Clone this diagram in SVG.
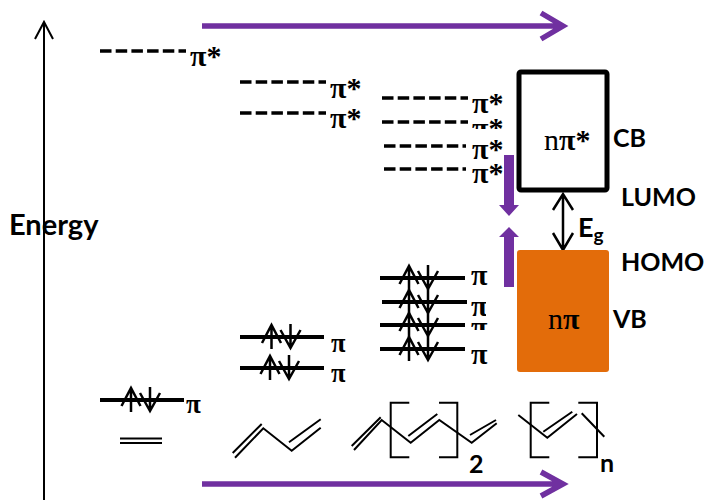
<svg xmlns="http://www.w3.org/2000/svg" width="704" height="500" viewBox="0 0 704 500">
<defs>
<style>
.lv{stroke:#000;stroke-width:4;fill:none}
.da{stroke:#000;stroke-width:3.500;fill:none;stroke-dasharray:11.500 4.200}
.ar{stroke:#000;stroke-width:2.500;fill:none}
.mol{stroke:#000;stroke-width:2;fill:none}
.pu{stroke:#7030a0;stroke-width:5.500;fill:none}
.ax{stroke:#000;stroke-width:2;fill:none}
.pi{font-family:"Liberation Serif",serif;font-weight:bold;font-size:30px;fill:#000}
.ps{font-family:"Liberation Serif",serif;font-weight:bold;font-size:27px;fill:#000}
.lb{font-family:Lato,"Liberation Sans",sans-serif;font-weight:bold;font-size:25px;fill:#000}
.n{font-family:"Liberation Serif",serif;font-size:30px;fill:#000}
.w{fill:#fff}
</style>
<g id="spin"><path class="ar" d="M0 12V-12M-9.500 6L0 -12L9.500 6"/><path class="ar" d="M19 -13V11M9 -7L19 11L29 -7"/></g>
</defs>
<g id="connectors">
<path class="ax" d="M44 500V22M35 39L44 22L53 39"/>
<path class="pu" d="M202 26H562M541 13L563 26L541 39"/>
<path class="pu" d="M202 484H562M541 472L563 484L541 496"/>
<path fill="#7030a0" d="M504 155H514V205H519L509 216L499 205H504Z"/>
<path fill="#7030a0" d="M504 287H514V237H519L509 227L499 237H504Z"/>
<path class="ar" d="M563 194V250M553 210L563 194L573 210M553 233L563 250L573 233"/>
</g>
<g id="level-ethylene">
<path class="da" d="M100 51H186"/>
<text class="pi" x="190" y="66">π*</text>
<path class="lv" d="M100 400H184"/>
<use href="#spin" x="131" y="400"/>
<text class="ps" x="186" y="413">π</text>
<path class="mol" d="M120 438.500H162M120 443H162"/>
</g>
<g id="level-butadiene">
<path class="da" d="M240 82H326"/>
<path class="da" d="M240 113H326"/>
<text class="pi" x="330" y="98">π*</text>
<text class="pi" x="330" y="128">π*</text>
<path class="lv" d="M240 337H324"/>
<path class="lv" d="M240 368H324"/>
<use href="#spin" x="271.500" y="337"/>
<use href="#spin" x="270" y="368"/>
<text class="ps" x="331" y="352">π</text>
<text class="ps" x="331" y="382">π</text>
<rect class="w" x="345.500" y="335" width="6" height="50"/>
<path class="mol" d="M232.700 453L261.700 424M235 457.700L263.300 428.300L291.700 450.700L320.700 427.700M289 442.300L320.700 419.300"/>
</g>
<g id="level-octatetraene">
<path class="da" d="M382 98H468"/>
<path class="da" d="M382 122H468"/>
<path class="da" d="M384 146H466"/>
<path class="da" d="M384 169H466"/>
<text class="pi" x="472" y="113">π*</text>
<text class="pi" x="472" y="138">π*</text>
<rect class="w" x="470" y="129" width="34" height="9"/>
<text class="pi" x="472" y="159">π*</text>
<text class="pi" x="472" y="183">π*</text>
<path class="lv" d="M380 278H465"/>
<path class="lv" d="M382 302H467"/>
<path class="lv" d="M380 325H465"/>
<path class="lv" d="M380 349H465"/>
<use href="#spin" x="409" y="278"/>
<use href="#spin" x="409" y="302"/>
<use href="#spin" x="409" y="325"/>
<use href="#spin" x="409" y="349"/>
<text class="pi" x="471" y="285">π</text>
<text class="pi" x="471" y="316">π</text>
<text class="pi" x="471" y="337">π</text>
<text class="pi" x="471" y="364">π</text>
<rect class="w" x="486" y="300" width="6" height="20"/>
<rect class="w" x="469" y="330" width="22" height="10"/>
<path class="mol" d="M351.700 446L380.700 417.300M354 450L381.700 420L410.700 442.700L439.300 420L471.700 442.700L496.700 423.300M408.300 436L437.300 414M470 435L496 420"/>
<path class="mol" d="M409.300 402.700H390.700V457.300H409.300M439 402.700H457.300V457.300H439"/>
<text class="lb" x="469" y="473">2</text>
</g>
<g id="level-polymer">
<path class="mol" d="M518.300 415L547.300 437.700L577 414M543.300 431.700L572.300 411.700M581.700 413.300L604.300 436.700"/>
<path class="mol" d="M549.300 402.700H530.700V457.300H549.300M578.300 402.700H597V457.300H578.300"/>
<text class="lb" x="600" y="472">n</text>
</g>
<g id="band-cb">
<rect x="519" y="72" width="88" height="118" rx="2" fill="#fff" stroke="#000" stroke-width="5"/>
<text class="n" x="544" y="150">n<tspan font-weight="bold">π*</tspan></text>
<text class="lb" x="613" y="147">CB</text>
</g>
<g id="band-vb">
<rect x="517" y="250" width="92" height="122" rx="3" fill="#e36c0a"/>
<text class="n" x="548" y="329">n<tspan font-weight="bold">π</tspan></text>
<text class="lb" x="613" y="328">VB</text>
</g>
<g id="labels">
<text class="lb" style="font-size:29px" x="9" y="235">Energy</text>
<text class="lb" x="621" y="206">LUMO</text>
<text class="lb" x="621" y="271">HOMO</text>
<text class="lb" style="font-size:27px" x="578" y="237">E<tspan font-size="19" dy="5">g</tspan></text>
</g>
</svg>
